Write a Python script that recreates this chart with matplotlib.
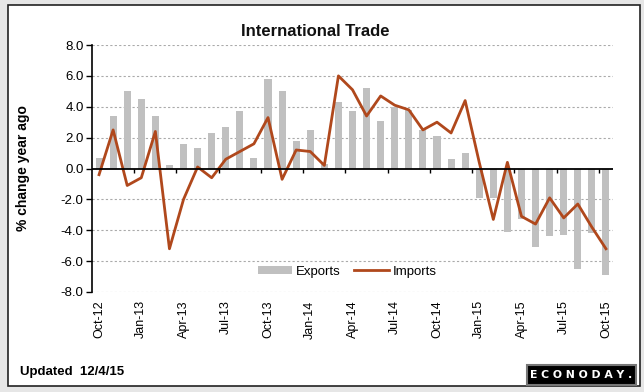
import numpy as np
import matplotlib
matplotlib.use('Agg')
import matplotlib.pyplot as plt
from matplotlib.patches import Rectangle

plt.rcParams['font.family'] = ['Liberation Sans', 'DejaVu Sans']

# monthly data, Oct-12 .. Oct-15 (% change year ago)
months = ['Oct-12', 'Nov-12', 'Dec-12', 'Jan-13', 'Feb-13', 'Mar-13', 'Apr-13', 'May-13', 'Jun-13',
          'Jul-13', 'Aug-13', 'Sep-13', 'Oct-13', 'Nov-13', 'Dec-13', 'Jan-14', 'Feb-14', 'Mar-14',
          'Apr-14', 'May-14', 'Jun-14', 'Jul-14', 'Aug-14', 'Sep-14', 'Oct-14', 'Nov-14', 'Dec-14',
          'Jan-15', 'Feb-15', 'Mar-15', 'Apr-15', 'May-15', 'Jun-15', 'Jul-15', 'Aug-15', 'Sep-15',
          'Oct-15']
exports = [0.7, 3.4, 5.0, 4.5, 3.4, 0.2, 1.6, 1.3, 2.3, 2.7, 3.7, 0.7,
           5.8, 5.0, 1.8, 2.5, 0.3, 4.3, 3.7, 5.2, 3.1, 4.0, 3.8, 2.5,
           2.1, 0.6, 1.0, -1.9, -1.9, -4.1, -3.3, -5.1, -4.4, -4.3, -6.5, -4.2, -6.9]
imports = [-0.4, 2.5, -1.1, -0.6, 2.4, -5.2, -2.0, 0.1, -0.6, 0.6, 1.1, 1.6,
           3.3, -0.7, 1.2, 1.1, 0.2, 6.0, 5.1, 3.4, 4.7, 4.1, 3.8, 2.5,
           3.0, 2.3, 4.4, 0.4, -3.3, 0.4, -3.1, -3.6, -1.9, -3.2, -2.3, -3.8, -5.2]

fig = plt.figure(figsize=(6.44, 3.92), dpi=100)
fig.patch.set_facecolor('#e6e6e6')

# background panel (white with dark border)
bg = fig.add_axes([0, 0, 1, 1])
bg.set_axis_off()
bg.set_xlim(0, 644)
bg.set_ylim(392, 0)
bg.add_patch(Rectangle((8, 5), 632, 381, facecolor='white', edgecolor='#222222', lw=1.2))
# ECONODAY logo box
bg.add_patch(Rectangle((527, 365), 109, 20, facecolor='black', edgecolor='#777777', lw=1.5))
bg.text(581.5, 375.5, 'E C O N O D A Y .', ha='center', va='center', fontsize=7.8,
        fontweight='bold', color='white', family='DejaVu Sans')

ax = fig.add_axes([92/644, 1-292/392, 521/644, 247/392])
ax.set_facecolor('none')
x = np.arange(len(months))

bars = ax.bar(x, exports, 0.5, color='#c0c0c0', label='Exports', zorder=2)
line, = ax.plot(x, imports, color='#b0481c', lw=2, label='Imports', zorder=3)

ax.set_xlim(-0.5, len(months) - 0.5)
ax.set_ylim(-8, 8)
yt = np.arange(-8, 8.1, 2)
ax.set_yticks(yt)
ax.set_yticklabels([f'{v:.1f}' for v in yt], fontsize=9.5)
for v in yt:
    if v != 0:
        ax.axhline(v, color='#aaaaaa', ls=(0, (2, 2)), lw=0.8, zorder=1)
ax.axhline(0, color='black', lw=1.3, zorder=4)
# small ticks on the zero line between quarters
ax.vlines(np.arange(2.5, len(months) - 1, 3), -0.3, 0, color='black', lw=1, zorder=4)

ax.set_xticks(x[::3])
ax.set_xticklabels(months[::3], rotation=90, fontsize=9)
ax.tick_params(axis='x', length=0, pad=6)
ax.tick_params(axis='y', length=4, width=1, direction='out', pad=2)
for s in ['top', 'right', 'bottom']:
    ax.spines[s].set_visible(False)
ax.spines['left'].set_color('black')
ax.spines['left'].set_linewidth(1.2)

ax.set_ylabel('% change year ago', fontsize=10, fontweight='bold', labelpad=22)
fig.text(0.49, 1-31/392, 'International Trade', ha='center', va='center',
         fontsize=12, fontweight='bold', color='#111111')

ax.legend([bars, line], ['Exports', 'Imports'], loc='lower center',
          bbox_to_anchor=(0.49, 0.01), ncol=2, frameon=False, fontsize=9.5,
          handlelength=2.6, handleheight=0.55, columnspacing=1, handletextpad=0.3)

fig.text(20/644, 1-372/392, 'Updated  12/4/15', ha='left', va='center',
         fontsize=9.5, fontweight='bold')

fig.savefig('out.png', dpi=100, facecolor=fig.get_facecolor())
